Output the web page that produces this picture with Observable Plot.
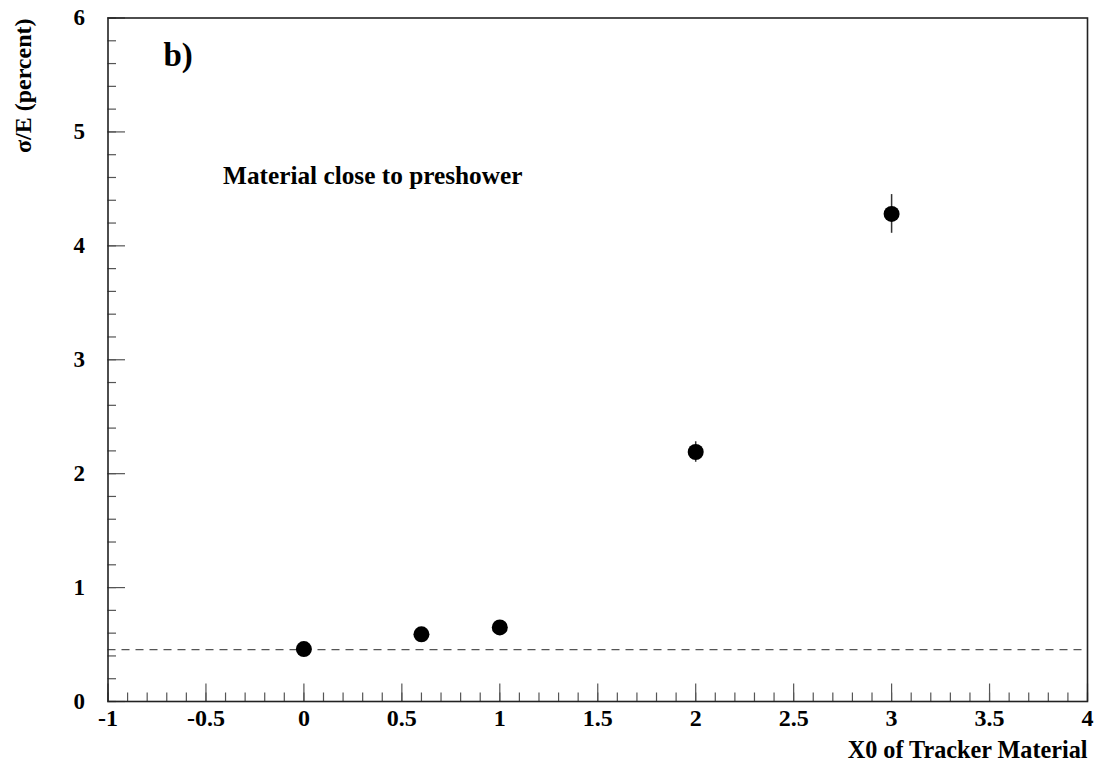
<!DOCTYPE html>
<html>
<head>
<meta charset="utf-8">
<script src="https://cdn.jsdelivr.net/npm/d3@7"></script>
<script src="https://cdn.jsdelivr.net/npm/@observablehq/plot@0.6"></script>
<style>
  html, body { margin: 0; padding: 0; background: #fff; }
</style>
</head>
<body>
<div id="chart"></div>
<script>
// Data
const xValues = [0, 0.6, 1, 2, 3];
const yValues = [0.46, 0.59, 0.65, 2.19, 4.28];
const yErrors = [0.02, 0.02, 0.02, 0.09, 0.17];
const referenceLevel = [0.455];

// Axis ticks
const xMajorTicks = [-1, -0.5, 0, 0.5, 1, 1.5, 2, 2.5, 3, 3.5, 4];
const xMinorTicks = d3.range(-10, 41).map(i => i / 10);
const yMajorTicks = [0, 1, 2, 3, 4, 5, 6];
const yMinorTicks = d3.range(0, 31).map(i => i / 5);

const panelLabel = ["b)"];
const annotation = ["Material close to preshower"];
const xLabel = ["X0 of Tracker Material"];
const yLabel = ["σ/E (percent)"];

const points = xValues.map((x, i) => ({x, y: yValues[i], e: yErrors[i]}));

const W = 1098, H = 771;
const mL = 107.5, mR = 11, mT = 17.5, mB = 70;
const plotW = W - mL - mR, plotH = H - mT - mB;

const chart = Plot.plot({
  width: W,
  height: H,
  marginLeft: mL,
  marginRight: mR,
  marginTop: mT,
  marginBottom: mB,
  style: {fontFamily: "'Liberation Serif', 'Times New Roman', serif", fontWeight: "bold", fontSize: "23px", background: "#fff", color: "#000"},
  x: {domain: [-1, 4]},
  y: {domain: [0, 6]},
  marks: [
    // minor and major ticks, drawn inward
    Plot.tickX(xMinorTicks, {x: d => d, insetTop: plotH - 8.5, stroke: "#555", strokeWidth: 1.2}),
    Plot.tickX(xMajorTicks, {x: d => d, insetTop: plotH - 17.5, stroke: "#555", strokeWidth: 1.2}),
    Plot.tickY(yMinorTicks, {y: d => d, insetRight: plotW - 8.5, stroke: "#555", strokeWidth: 1.2}),
    Plot.tickY(yMajorTicks, {y: d => d, insetRight: plotW - 17.5, stroke: "#555", strokeWidth: 1.2}),
    Plot.axisX({ticks: xMajorTicks, tickSize: 0, tickPadding: 7, tickFormat: d => String(d), fontSize: 24, fontWeight: "bold", fill: "#000", label: null}),
    Plot.axisY({ticks: yMajorTicks, tickSize: 0, tickPadding: 23, tickFormat: d => String(d), fontSize: 23, fontWeight: "bold", fill: "#000", label: null}),
    Plot.ruleY(referenceLevel, {stroke: "#555", strokeWidth: 1.3, strokeDasharray: "8,6"}),
    Plot.ruleX(points, {x: "x", y1: d => d.y - d.e, y2: d => d.y + d.e, stroke: "#333", strokeWidth: 1.5}),
    Plot.dot(points, {x: "x", y: "y", r: 8, fill: "#000", stroke: null}),
    Plot.frame({stroke: "#222", strokeWidth: 1.6}),
    Plot.text(panelLabel, {frameAnchor: "top-left", textAnchor: "start", lineAnchor: "bottom", dx: 55.5, dy: 47.5, fontSize: 33, fontWeight: "bold", fill: "#000"}),
    Plot.text(annotation, {frameAnchor: "top-left", textAnchor: "start", lineAnchor: "bottom", dx: 115, dy: 165.5, fontSize: 25.3, fontWeight: "bold", fill: "#000"}),
    Plot.text(xLabel, {frameAnchor: "bottom-right", textAnchor: "end", lineAnchor: "bottom", dx: 0, dy: 56, fontSize: 24.2, fontWeight: "bold", fill: "#000"}),
    Plot.text(yLabel, {frameAnchor: "top-left", textAnchor: "end", lineAnchor: "bottom", rotate: -90, dx: -77.5, dy: 0.5, fontSize: 24, fontWeight: "bold", fill: "#000"})
  ]
});

document.getElementById("chart").appendChild(chart);
</script>
</body>
</html>
